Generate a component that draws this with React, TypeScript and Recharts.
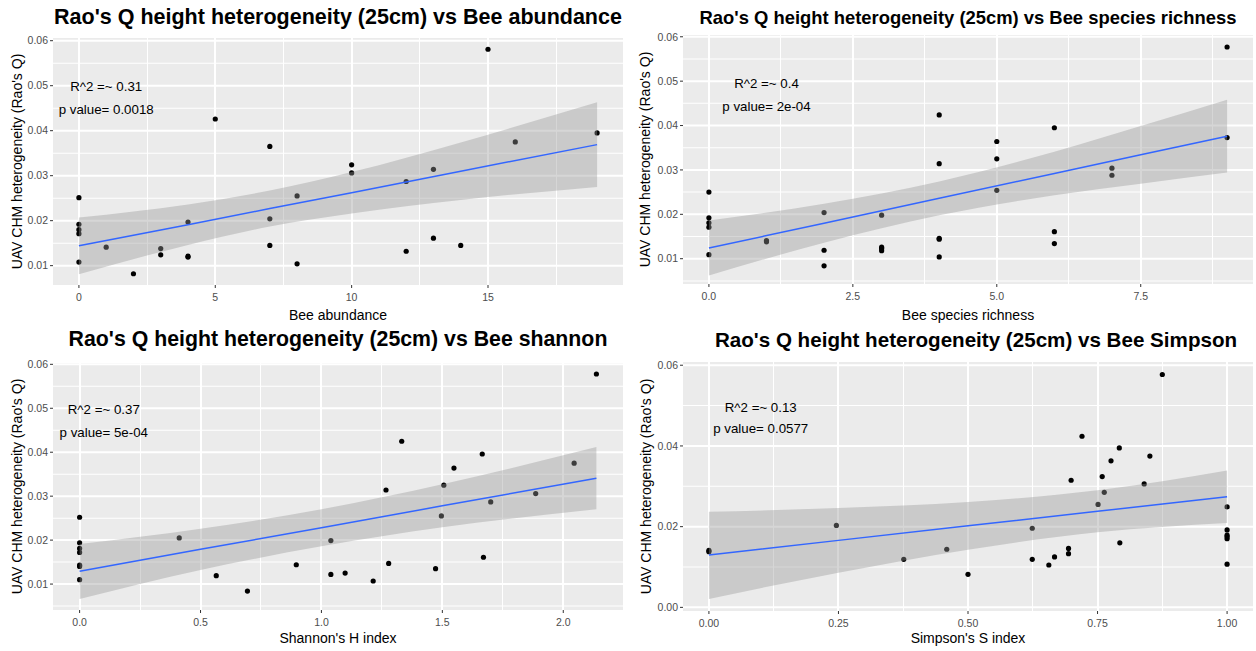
import React from 'react';
import { ComposedChart, Scatter, Area, Line, XAxis, YAxis, CartesianGrid, ReferenceDot, ReferenceLine, ReferenceArea } from 'recharts';

// Bee abundance
const abundanceX = [0, 0, 0, 0, 0, 1, 2, 3, 3, 4, 4, 4, 5, 7, 7, 7, 8, 8, 10, 10, 12, 12, 13, 13, 14, 15, 16, 19];
const abundanceY = [0.0251, 0.0192, 0.018, 0.0171, 0.0108, 0.0141, 0.0082, 0.0138, 0.0124, 0.0197, 0.0121, 0.0119, 0.0426, 0.0365, 0.0204, 0.0145, 0.0255, 0.0104, 0.0324, 0.0306, 0.0287, 0.0132, 0.0314, 0.0161, 0.0145, 0.0581, 0.0375, 0.0395];
const abundanceFitX = [0, 4, 7, 10, 14, 19];
const abundanceFit = [0.0144, 0.0191, 0.0227, 0.0262, 0.031, 0.0369];
const abundanceLow = [0.0081, 0.0146, 0.0187, 0.0216, 0.0246, 0.0275];
const abundanceHigh = [0.0207, 0.0236, 0.0267, 0.0308, 0.0374, 0.0463];

// Bee species richness
const richnessX = [0, 0, 0, 0, 0, 1, 1, 2, 2, 2, 3, 3, 3, 3, 4, 4, 4, 4, 4, 5, 5, 5, 6, 6, 6, 7, 7, 9, 9];
const richnessY = [0.025, 0.0192, 0.0181, 0.0171, 0.0109, 0.0141, 0.0138, 0.0204, 0.0119, 0.0084, 0.0198, 0.0126, 0.0123, 0.0118, 0.0424, 0.0314, 0.0146, 0.0144, 0.0104, 0.0364, 0.0325, 0.0254, 0.0395, 0.0161, 0.0134, 0.0304, 0.0288, 0.0577, 0.0373];
const richnessFitX = [0, 2, 4, 6, 7.5, 9];
const richnessFit = [0.0124, 0.018, 0.0236, 0.0292, 0.0334, 0.0376];
const richnessLow = [0.0062, 0.0136, 0.0198, 0.0243, 0.0269, 0.0294];
const richnessHigh = [0.0186, 0.0224, 0.0274, 0.0341, 0.0399, 0.0458];

// Shannon's H
const shannonX = [0, 0, 0, 0, 0, 0, 0, 0.412, 0.565, 0.694, 0.896, 1.039, 1.039, 1.098, 1.214, 1.267, 1.278, 1.332, 1.472, 1.496, 1.506, 1.548, 1.665, 1.67, 1.7, 1.886, 2.045, 2.137];
const shannonY = [0.0252, 0.0194, 0.0181, 0.0172, 0.0143, 0.014, 0.011, 0.0205, 0.0119, 0.0084, 0.0144, 0.0199, 0.0122, 0.0125, 0.0107, 0.0314, 0.0147, 0.0425, 0.0135, 0.0255, 0.0325, 0.0364, 0.0396, 0.0161, 0.0287, 0.0306, 0.0375, 0.0578];
const shannonFitX = [0, 0.5, 1, 1.5, 2.137];
const shannonFit = [0.0129, 0.0179, 0.0228, 0.0278, 0.0341];
const shannonLow = [0.0066, 0.0132, 0.0186, 0.0229, 0.027];
const shannonHigh = [0.0191, 0.0226, 0.027, 0.0327, 0.0412];

// Simpson's S
const simpsonX = [0, 0, 0.246, 0.376, 0.459, 0.5, 0.624, 0.624, 0.656, 0.667, 0.694, 0.694, 0.699, 0.72, 0.751, 0.759, 0.763, 0.776, 0.792, 0.793, 0.84, 0.851, 0.875, 1, 1, 1, 1, 1, 1];
const simpsonY = [0.0141, 0.0138, 0.0203, 0.0119, 0.0144, 0.0082, 0.0196, 0.0119, 0.0105, 0.0125, 0.0146, 0.0133, 0.0315, 0.0424, 0.0255, 0.0324, 0.0285, 0.0363, 0.0395, 0.016, 0.0306, 0.0375, 0.0577, 0.0249, 0.0192, 0.0179, 0.0175, 0.017, 0.0107];
const simpsonFitX = [0, 0.25, 0.5, 0.75, 1];
const simpsonFit = [0.013, 0.0166, 0.0202, 0.0238, 0.0274];
const simpsonLow = [0.0021, 0.0086, 0.0143, 0.0186, 0.0209];
const simpsonHigh = [0.0237, 0.0246, 0.0261, 0.029, 0.0339];

// ticks
const rqTicks = [0.01, 0.02, 0.03, 0.04, 0.05, 0.06];
const rqTickLabels = ['0.01', '0.02', '0.03', '0.04', '0.05', '0.06'];
const rqMinor = [0.005, 0.015, 0.025, 0.035, 0.045, 0.055];
const simpsonYTicks = [0, 0.02, 0.04, 0.06];
const simpsonYTickLabels = ['0.00', '0.02', '0.04', '0.06'];
const simpsonYMinor = [0.01, 0.03, 0.05];

const abundanceTicks = [0, 5, 10, 15];
const abundanceTickLabels = ['0', '5', '10', '15'];
const abundanceMinor = [2.5, 7.5, 12.5, 17.5];
const richnessTicks = [0, 2.5, 5, 7.5];
const richnessTickLabels = ['0.0', '2.5', '5.0', '7.5'];
const richnessMinor = [1.25, 3.75, 6.25, 8.75];
const shannonTicks = [0, 0.5, 1, 1.5, 2];
const shannonTickLabels = ['0.0', '0.5', '1.0', '1.5', '2.0'];
const shannonMinor = [0.25, 0.75, 1.25, 1.75];
const simpsonTicks = [0, 0.25, 0.5, 0.75, 1];
const simpsonTickLabels = ['0.00', '0.25', '0.50', '0.75', '1.00'];
const simpsonMinor = [0.125, 0.375, 0.625, 0.875];

const yTitle = "UAV CHM heterogeneity (Rao's Q)";
const FONT = '"Liberation Sans", Arial, sans-serif';

function Panel(p: any) {
  const points = p.xs.map((x: number, i: number) => ({ x, y: p.ys[i] }));
  const band = p.fitX.map((x: number, i: number) => ({ x, fit: p.fit[i], band: [p.low[i], p.high[i]] }));
  const fmt = (ticks: number[], labels: string[]) => (v: number) => {
    const i = ticks.indexOf(v);
    return i >= 0 ? labels[i] : String(v);
  };
  // grid: thin minor lines, thicker major lines
  const gridX = [
    ...p.xMinor.map((v: number) => ({ v, w: 1 })),
    ...p.xTicks.map((v: number) => ({ v, w: 2 })),
  ];
  // horizontal grid drawn as thin bands (half-thickness in data units)
  const perPx = (p.yDomain[1] - p.yDomain[0]) / p.plotH;
  const gridY = [
    ...p.yMinor.map((v: number) => ({ v, d: perPx * 0.5 })),
    ...p.yTicks.map((v: number) => ({ v, d: perPx * 1 })),
  ];
  return (
    <>
      <div
        style={{
          position: 'absolute',
          left: p.left + 53 + (p.titleShift || 0),
          top: p.titleTop,
          width: 570,
          textAlign: 'center',
          whiteSpace: 'nowrap',
          fontWeight: 'bold',
          fontSize: p.titleSize,
          lineHeight: 1,
        }}
      >
        {p.title}
      </div>
      <div style={{ position: 'absolute', left: p.left, top: p.top }}>
        <ComposedChart width={626} height={p.height} data={band} margin={{ top: 8, right: 3, bottom: 0, left: 0 }}>
          <CartesianGrid fill="#EBEBEB" fillOpacity={1} horizontal={false} vertical={false} />
          <XAxis
            type="number"
            dataKey="x"
            domain={p.xDomain}
            ticks={p.xTicks}
            interval={0}
            allowDataOverflow
            height={40}
            axisLine={false}
            tickSize={3}
            tickMargin={6}
            tickLine={{ stroke: '#333333' }}
            tick={{ fill: '#4D4D4D', fontSize: 10.5 }}
            tickFormatter={fmt(p.xTicks, p.xTickLabels)}
            label={{ value: p.xTitle, position: 'insideBottom', offset: p.xTitleOffset, fill: '#000000', fontSize: 14 }}
          />
          <YAxis
            type="number"
            domain={p.yDomain}
            ticks={p.yTicks}
            interval={0}
            allowDataOverflow
            width={53}
            axisLine={false}
            tickSize={3}
            tickMargin={2}
            tickLine={{ stroke: '#333333' }}
            tick={{ fill: '#4D4D4D', fontSize: 10.5 }}
            tickFormatter={fmt(p.yTicks, p.yTickLabels)}
            label={{ value: yTitle, angle: -90, position: 'insideLeft', offset: p.yTitleOffset, fill: '#000000', fontSize: 14, style: { textAnchor: 'middle' } }}
          />
          {gridY.map((g: any) => (
            <ReferenceArea key={'gy' + g.v} y1={g.v - g.d} y2={g.v + g.d} ifOverflow="visible" fill="#FFFFFF" fillOpacity={1} stroke="none" zIndex={-60} />
          ))}
          {gridX.map((g: any) => (
            <ReferenceLine key={'gx' + g.v} x={g.v} ifOverflow="visible" stroke="#FFFFFF" strokeWidth={g.w} shapeRendering="crispEdges" zIndex={-60} />
          ))}
          <Scatter
            data={points}
            dataKey="y"
            zIndex={50}
            isAnimationActive={false}
            shape={(s: any) => <circle cx={s.cx} cy={s.cy} r={2.6} fill="#000000" />}
          />
          <Area dataKey="band" type="monotone" stroke="none" fill="#999999" fillOpacity={0.4} dot={false} activeDot={false} isAnimationActive={false} />
          <Line dataKey="fit" type="linear" stroke="#3366FF" strokeWidth={1.5} dot={false} activeDot={false} isAnimationActive={false} />
          <ReferenceDot x={p.noteX} y={p.r2Y} r={0} stroke="none" label={{ value: p.r2, position: 'center', fill: '#000000', fontSize: 13.3 }} />
          <ReferenceDot x={p.noteX} y={p.pY} r={0} stroke="none" label={{ value: p.pval, position: 'center', fill: '#000000', fontSize: 13.3 }} />
        </ComposedChart>
      </div>
    </>
  );
}

export default function App() {
  return (
    <div style={{ position: 'absolute', left: 0, top: 0, width: 1256, height: 651, background: '#FFFFFF', fontFamily: FONT }}>
      <Panel
        left={0} top={30} height={295} plotH={247} titleTop={7} titleSize={21.5}
        title="Rao's Q height heterogeneity (25cm) vs Bee abundance"
        xs={abundanceX} ys={abundanceY} fitX={abundanceFitX} fit={abundanceFit} low={abundanceLow} high={abundanceHigh}
        xDomain={[-0.95, 19.95]} yDomain={[0.0057, 0.0606]}
        xTicks={abundanceTicks} xTickLabels={abundanceTickLabels} xMinor={abundanceMinor}
        yTicks={rqTicks} yTickLabels={rqTickLabels} yMinor={rqMinor}
        xTitle="Bee abundance" xTitleOffset={5} yTitleOffset={17}
        noteX={1} r2Y={0.0498} pY={0.0447} r2="R^2 =~ 0.31" pval="p value= 0.0018"
      />
      <Panel
        left={630} top={27} height={297} plotH={249} titleTop={9} titleSize={18.4}
        title="Rao's Q height heterogeneity (25cm) vs Bee species richness"
        xs={richnessX} ys={richnessY} fitX={richnessFitX} fit={richnessFit} low={richnessLow} high={richnessHigh}
        xDomain={[-0.45, 9.45]} yDomain={[0.0043, 0.0604]}
        xTicks={richnessTicks} xTickLabels={richnessTickLabels} xMinor={richnessMinor}
        yTicks={rqTicks} yTickLabels={rqTickLabels} yMinor={rqMinor}
        xTitle="Bee species richness" xTitleOffset={4} yTitleOffset={15}
        noteX={1} r2Y={0.0495} pY={0.0444} r2="R^2 =~ 0.4" pval="p value= 2e-04"
      />
      <Panel
        left={0} top={355} height={295} plotH={247} titleTop={329} titleSize={21.3}
        title="Rao's Q height heterogeneity (25cm) vs Bee shannon"
        xs={shannonX} ys={shannonY} fitX={shannonFitX} fit={shannonFit} low={shannonLow} high={shannonHigh}
        xDomain={[-0.11, 2.247]} yDomain={[0.0041, 0.0603]}
        xTicks={shannonTicks} xTickLabels={shannonTickLabels} xMinor={shannonMinor}
        yTicks={rqTicks} yTickLabels={rqTickLabels} yMinor={rqMinor}
        xTitle="Shannon's H index" xTitleOffset={7} yTitleOffset={17}
        noteX={0.1} r2Y={0.0497} pY={0.0445} r2="R^2 =~ 0.37" pval="p value= 5e-04"
      />
      <Panel
        left={630} top={354} height={297} plotH={249} titleTop={330} titleSize={20.6} titleShift={8}
        title="Rao's Q height heterogeneity (25cm) vs Bee Simpson"
        xs={simpsonX} ys={simpsonY} fitX={simpsonFitX} fit={simpsonFit} low={simpsonLow} high={simpsonHigh}
        xDomain={[-0.05, 1.05]} yDomain={[-0.0009, 0.0608]}
        xTicks={simpsonTicks} xTickLabels={simpsonTickLabels} xMinor={simpsonMinor}
        yTicks={simpsonYTicks} yTickLabels={simpsonYTickLabels} yMinor={simpsonYMinor}
        xTitle="Simpson's S index" xTitleOffset={8} yTitleOffset={16}
        noteX={0.1} r2Y={0.0497} pY={0.0443} r2="R^2 =~ 0.13" pval="p value= 0.0577"
      />
    </div>
  );
}
